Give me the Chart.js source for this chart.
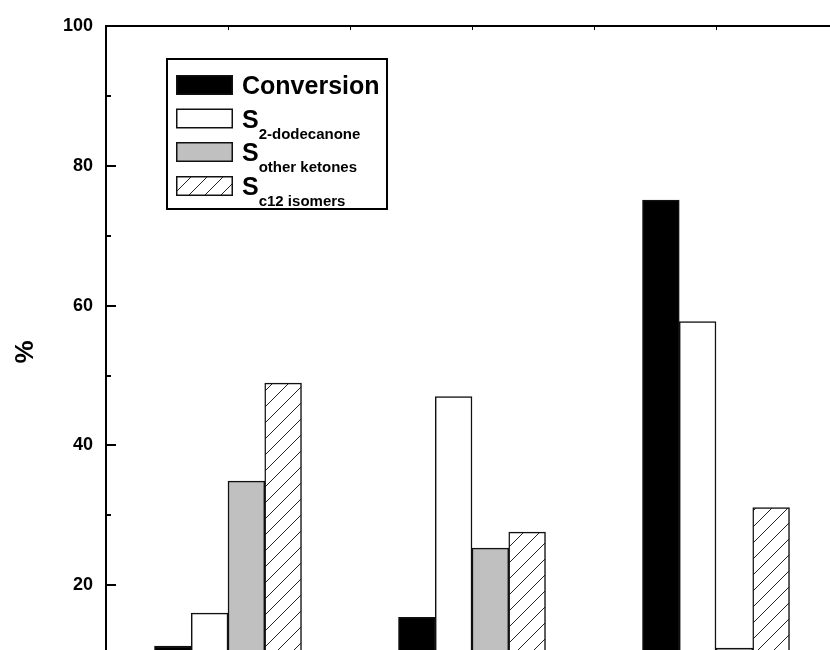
<!DOCTYPE html>
<html>
<head>
<meta charset="utf-8">
<script src="https://cdn.jsdelivr.net/npm/chart.js@4/dist/chart.umd.min.js"></script>
<style>
  html, body { margin: 0; padding: 0; background: #fff; overflow: hidden; }
  #wrap { width: 830px; height: 650px; overflow: hidden; }
  canvas { display: block; }
</style>
</head>
<body>
<div id="wrap"><canvas id="c" width="860" height="760"></canvas></div>
<script>
// Group positions on the x axis and the four measured series (%)
const groupPositions = [1, 3, 5];
const conversion     = [11.3, 15.4, 75.1];
const sDodecanone    = [16.0, 47.0, 57.7];
const sOtherKetones  = [34.9, 25.3, 11.0];
const sC12Isomers    = [48.9, 27.6, 31.1];

// Legend text: main symbol plus subscript
const seriesMain = ['Conversion', 'S', 'S', 'S'];
const seriesSub  = ['', '2-dodecanone', 'other ketones', 'c12 isomers'];

// y tick values that carry a label
const yLabelStep = 20;

const FONT = '"Liberation Sans", Arial, Helvetica, sans-serif';

// Diagonal hatch fill
function makeHatch() {
  const s = 16;
  const c = document.createElement('canvas');
  c.width = s; c.height = s;
  const g = c.getContext('2d');
  g.fillStyle = '#fff';
  g.fillRect(0, 0, s, s);
  g.strokeStyle = '#222';
  g.lineWidth = 1;
  g.beginPath();
  g.moveTo(-1, s + 1); g.lineTo(s + 1, -1);
  g.moveTo(-1, 1); g.lineTo(1, -1);
  g.moveTo(s - 1, s + 1); g.lineTo(s + 1, s - 1);
  g.stroke();
  return g.createPattern(c, 'repeat');
}
const hatch = makeHatch();

const pts = arr => arr.map((v, i) => ({ x: groupPositions[i], y: v }));

const swatchFills = ['#000000', '#ffffff', '#c0c0c0', hatch];
const seriesData = [conversion, sDodecanone, sOtherKetones, sC12Isomers];

const datasets = seriesData.map((d, i) => ({
  label: seriesMain[i] + seriesSub[i],
  data: pts(d),
  backgroundColor: swatchFills[i],
  borderColor: '#111',
  borderWidth: 1.5,
  borderSkipped: false,
  barThickness: 36.75
}));

// Frame, inward ticks, axis title and legend box
const decor = {
  id: 'decor',
  afterDatasetsDraw(chart) {
    const { ctx, chartArea: a, scales: { x, y } } = chart;
    ctx.save();
    ctx.strokeStyle = '#000';
    ctx.lineCap = 'butt';

    // left axis and top border
    ctx.lineWidth = 2;
    ctx.beginPath();
    ctx.moveTo(a.left, a.top - 1);
    ctx.lineTo(a.left, a.bottom);
    ctx.moveTo(a.left - 1, a.top);
    ctx.lineTo(a.right, a.top);
    ctx.stroke();

    // y ticks pointing inward
    ctx.lineWidth = 2;
    y.ticks.forEach(t => {
      const py = Math.round(y.getPixelForValue(t.value));
      const len = (t.value % yLabelStep === 0) ? 10 : 5;
      ctx.beginPath();
      ctx.moveTo(a.left, py);
      ctx.lineTo(a.left + len, py);
      ctx.stroke();
    });

    // top border ticks pointing inward
    ctx.lineWidth = 1;
    x.ticks.forEach(t => {
      const px = Math.round(x.getPixelForValue(t.value)) + 0.5;
      ctx.beginPath();
      ctx.moveTo(px, a.top);
      ctx.lineTo(px, a.top + 4);
      ctx.stroke();
    });

    // y axis title
    ctx.fillStyle = '#000';
    ctx.font = 'bold 26px ' + FONT;
    ctx.textAlign = 'center';
    ctx.textBaseline = 'middle';
    ctx.translate(a.left - 80, a.top + 326);
    ctx.rotate(-Math.PI / 2);
    ctx.fillText('%', 0, 0);
    ctx.restore();

    // legend
    ctx.save();
    const bx = a.left + 61, by = a.top + 33, bw = 220, bh = 150;
    ctx.fillStyle = '#fff';
    ctx.fillRect(bx, by, bw, bh);
    ctx.strokeStyle = '#000';
    ctx.lineWidth = 2;
    ctx.strokeRect(bx, by, bw, bh);

    const rowTop = [by + 16, by + 49.5, by + 83, by + 117];
    chart.data.datasets.forEach((ds, i) => {
      const sx = bx + 9, sy = rowTop[i], sw = 57, sh = 20;
      ctx.fillStyle = ds.backgroundColor;
      ctx.fillRect(sx, sy, sw, sh);
      ctx.strokeStyle = '#111';
      ctx.lineWidth = 1.5;
      ctx.strokeRect(sx + 0.75, sy + 0.75, sw - 1.5, sh - 1.5);

      ctx.fillStyle = '#000';
      ctx.textAlign = 'left';
      ctx.textBaseline = 'alphabetic';
      ctx.font = 'bold 25px ' + FONT;
      const tx = bx + 75;
      const base = sy + sh - 1;
      ctx.fillText(seriesMain[i], tx, base);
      if (seriesSub[i]) {
        const w = ctx.measureText(seriesMain[i]).width;
        ctx.font = 'bold 15px ' + FONT;
        ctx.fillText(seriesSub[i], tx + w, base + 11);
      }
    });
    ctx.restore();
  }
};

new Chart(document.getElementById('c'), {
  type: 'bar',
  data: { datasets },
  plugins: [decor],
  options: {
    responsive: false,
    animation: false,
    devicePixelRatio: 1,
    layout: { padding: { left: 0, top: 26, right: 22, bottom: 35 } },
    plugins: { legend: { display: false }, tooltip: { enabled: false } },
    scales: {
      x: {
        type: 'linear',
        min: 0, max: 6,
        offset: false,
        display: false,
        ticks: { stepSize: 1 },
        grid: { display: false, offset: false }
      },
      y: {
        min: 0, max: 100,
        ticks: {
          stepSize: 10,
          padding: 13,
          color: '#000',
          font: { family: FONT, size: 18, weight: 'bold' },
          callback: v => (v % yLabelStep === 0 ? String(v) : '')
        },
        grid: { display: false, drawTicks: false },
        border: { display: false },
        afterFit(s) { s.width = 106; }
      }
    }
  }
});
</script>
</body>
</html>
